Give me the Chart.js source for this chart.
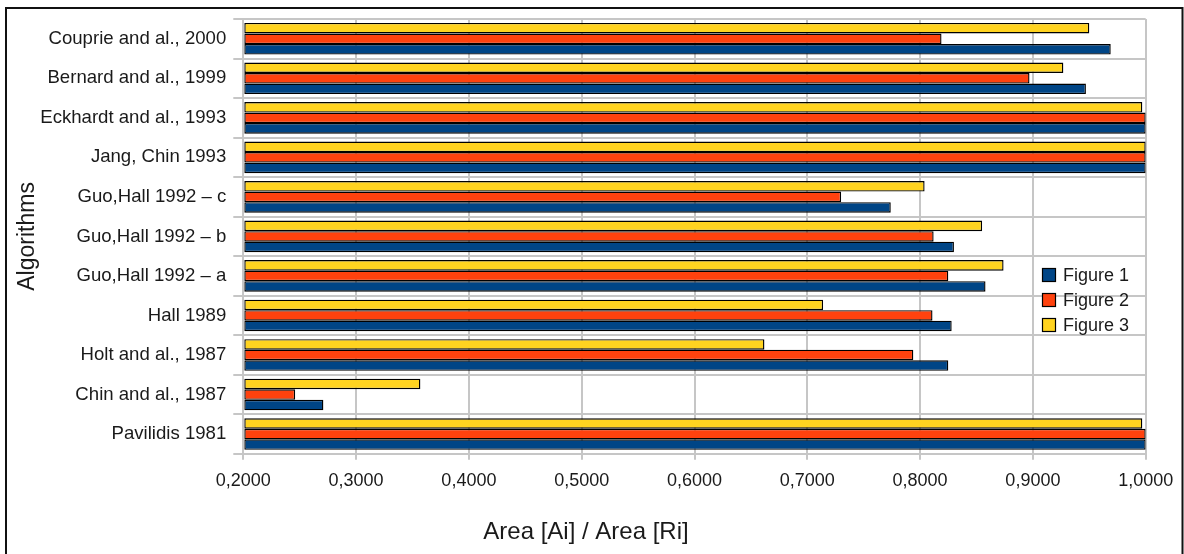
<!DOCTYPE html>
<html>
<head>
<meta charset="utf-8">
<title>Area [Ai] / Area [Ri]</title>
<script src="https://cdn.jsdelivr.net/npm/chart.js@4/dist/chart.umd.min.js"></script>
<style>
  html, body { margin: 0; padding: 0; background: #ffffff; }
  #wrap { position: relative; width: 1184px; height: 554px; }
</style>
</head>
<body>
<div id="wrap"><canvas id="chart"></canvas></div>
<script>
// Algorithms, listed top to bottom
const algorithms = [
  'Couprie and al., 2000',
  'Bernard and al., 1999',
  'Eckhardt and al., 1993',
  'Jang, Chin 1993',
  'Guo,Hall 1992 – c',
  'Guo,Hall 1992 – b',
  'Guo,Hall 1992 – a',
  'Hall 1989',
  'Holt and al., 1987',
  'Chin and al., 1987',
  'Pavilidis 1981'
];

// Area [Ai] / Area [Ri] per algorithm and test figure
const figure1 = [0.969, 0.947, 1.000, 1.000, 0.774, 0.830, 0.858, 0.828, 0.825, 0.271, 1.000];
const figure2 = [0.819, 0.897, 1.000, 1.000, 0.730, 0.812, 0.825, 0.811, 0.794, 0.246, 1.000];
const figure3 = [0.950, 0.927, 0.997, 1.000, 0.804, 0.855, 0.874, 0.714, 0.662, 0.357, 0.997];

// Value axis ticks
const xTicks = [0.2, 0.3, 0.4, 0.5, 0.6, 0.7, 0.8, 0.9, 1.0];

const seriesNames = ['Figure 1', 'Figure 2', 'Figure 3'];
const seriesColors = ['#004586', '#ff420e', '#ffd320'];

const FONT = "'Liberation Sans', Arial, sans-serif";
const TEXT = '#1a1a1a';
const GRID = '#c6c6c6';

function barSet(i, values) {
  return {
    label: seriesNames[i],
    data: values,
    backgroundColor: seriesColors[i],
    borderColor: '#000000',
    borderWidth: 1.4,
    borderSkipped: false,
    base: xTicks[0],
    categoryPercentage: 0.8,
    barPercentage: 1.0
  };
}

// Legend drawn inside the plot, near the right edge
const innerLegend = {
  id: 'innerLegend',
  afterDatasetsDraw(chart) {
    const ctx = chart.ctx;
    const x0 = 1042, y0 = 268, pitch = 25, box = 14;
    ctx.save();
    ctx.font = '18px ' + FONT;
    ctx.textBaseline = 'middle';
    ctx.textAlign = 'left';
    seriesNames.forEach((name, i) => {
      const y = y0 + i * pitch;
      ctx.fillStyle = seriesColors[i];
      ctx.fillRect(x0, y, box, box);
      ctx.strokeStyle = '#000000';
      ctx.lineWidth = 1.2;
      ctx.strokeRect(x0 + 0.5, y + 0.5, box - 1, box - 1);
      ctx.fillStyle = TEXT;
      ctx.fillText(name, x0 + 21, y + box / 2 + 1);
    });
    ctx.restore();
  }
};

// Outer frame around the figure
const frame = {
  id: 'frame',
  afterDraw(chart) {
    const ctx = chart.ctx;
    ctx.save();
    ctx.strokeStyle = '#111111';
    ctx.lineWidth = 2;
    ctx.beginPath();
    ctx.moveTo(6, 560);
    ctx.lineTo(6, 8);
    ctx.lineTo(1182.5, 8);
    ctx.lineTo(1182.5, 560);
    ctx.stroke();
    ctx.restore();
  }
};

new Chart(document.getElementById('chart'), {
  type: 'bar',
  data: {
    labels: algorithms,
    datasets: [barSet(2, figure3), barSet(1, figure2), barSet(0, figure1)]
  },
  options: {
    indexAxis: 'y',
    responsive: true,
    maintainAspectRatio: false,
    animation: false,
    layout: { padding: { top: 19, right: 38.3, left: 26.3, bottom: 0 } },
    scales: {
      x: {
        min: xTicks[0],
        max: xTicks[xTicks.length - 1],
        afterBuildTicks: (s) => { s.ticks = xTicks.map(v => ({ value: v })); },
        afterFit: (s) => { s.height = 64.2; },
        grid: { color: GRID, lineWidth: 2, tickLength: 6, tickColor: GRID },
        border: { color: GRID, width: 2 },
        ticks: {
          color: TEXT,
          padding: 10,
          font: { family: FONT, size: 18 },
          callback: (v) => Number(v).toFixed(4).replace('.', ',')
        }
      },
      y: {
        afterFit: (s) => { s.width = 217; },
        grid: { color: GRID, lineWidth: 2, tickLength: 10, tickColor: GRID, offset: true },
        border: { color: GRID, width: 2 },
        ticks: {
          color: TEXT,
          padding: 7,
          font: { family: FONT, size: 18.6 }
        },
        title: {
          display: true,
          text: 'Algorithms',
          color: TEXT,
          padding: { top: -12.1, bottom: 0 },
          font: { family: FONT, size: 23 }
        }
      }
    },
    plugins: {
      legend: { display: false },
      tooltip: { enabled: false },
      title: {
        display: true,
        position: 'bottom',
        text: 'Area [Ai] / Area [Ri]',
        color: TEXT,
        padding: { top: 0, bottom: 7.2 },
        font: { family: FONT, size: 24, weight: 'normal' }
      }
    }
  },
  plugins: [innerLegend, frame]
});
</script>
</body>
</html>
